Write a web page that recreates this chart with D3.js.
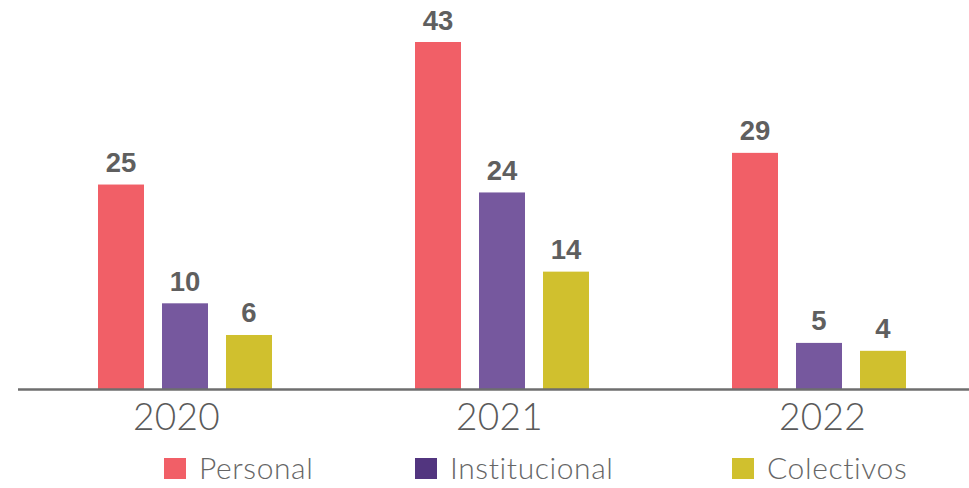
<!DOCTYPE html>
<html><head><meta charset="utf-8">
<script src="https://cdn.jsdelivr.net/npm/d3@7"></script>
<style>html,body{margin:0;padding:0;background:#fff;}</style>
</head><body>
<svg id="chart" width="969" height="488"></svg>
<script>
const years = ["2020", "2021", "2022"];
const series = ["Personal", "Institucional", "Colectivos"];
const personal = [25, 43, 29];
const institucional = [10, 24, 5];
const colectivos = [6, 14, 4];
const barColors = ["#f15f67", "#76589e", "#d0c02e"];
const legendColors = ["#f15f67", "#52357f", "#d0c02e"];

const values = [personal, institucional, colectivos];
const rows = years.map((y, i) => ({year: y, vals: series.map((s, j) => ({key: s, idx: j, v: values[j][i]}))}));

const svg = d3.select("#chart");
const axisY = 389;
const x0 = d3.scaleBand().domain(years).range([26.5, 977.5]).padding(0);
const x1 = d3.scaleBand().domain(series).range([-87, 87]).paddingInner(18/64).paddingOuter(0);
const y = d3.scaleLinear().domain([0, 43]).range([382.5, 42]);

const g = svg.selectAll("g.grp").data(rows).enter().append("g")
  .attr("transform", d => `translate(${x0(d.year) + x0.bandwidth()/2},0)`);

g.selectAll("rect").data(d => d.vals).enter().append("rect")
  .attr("x", d => x1(d.key))
  .attr("width", x1.bandwidth())
  .attr("y", d => y(d.v))
  .attr("height", d => axisY - y(d.v))
  .attr("fill", d => barColors[d.idx]);

g.selectAll("text.val").data(d => d.vals).enter().append("text")
  .attr("class", "val")
  .attr("x", d => x1(d.key) + x1.bandwidth()/2)
  .attr("y", d => y(d.v) - 12.5)
  .attr("text-anchor", "middle")
  .attr("font-family", "Liberation Sans, Arial, sans-serif")
  .attr("font-weight", "bold")
  .attr("font-size", 27.5)
  .attr("fill", "#5f5f5f")
  .text(d => d.v);

// axis baseline
svg.append("line").attr("x1", 18).attr("x2", 969).attr("y1", axisY + 0.5).attr("y2", axisY + 0.5)
  .attr("stroke", "#6e6e6e").attr("stroke-width", 2.5);

// year labels via axis
const xLab = d3.scalePoint().domain(years).range([176, 822]);
const xAxis = d3.axisBottom(xLab).tickSize(0).tickPadding(0);
const ax = svg.append("g").attr("transform", `translate(0,${axisY})`).call(xAxis);
ax.select(".domain").remove();
ax.selectAll("text")
  .attr("dy", null).attr("y", 41)
  .attr("font-family", "Lato, sans-serif")
  .attr("font-weight", 300)
  .attr("font-size", 37)
  .attr("letter-spacing", "0.3px")
  .attr("fill", "#5a5a5a");

// legend
const legendX = [164, 415, 732];
const lg = svg.selectAll("g.leg").data(series).enter().append("g")
  .attr("transform", (d, i) => `translate(${legendX[i]},458)`);
lg.append("rect").attr("width", 22).attr("height", 21).attr("fill", (d, i) => legendColors[i]);
lg.append("text").attr("x", 35).attr("y", 21)
  .attr("font-family", "Lato, sans-serif")
  .attr("font-weight", 300)
  .attr("font-size", 30)
  .attr("letter-spacing", "0.6px")
  .attr("fill", "#666")
  .text(d => d);
</script>
</body></html>
